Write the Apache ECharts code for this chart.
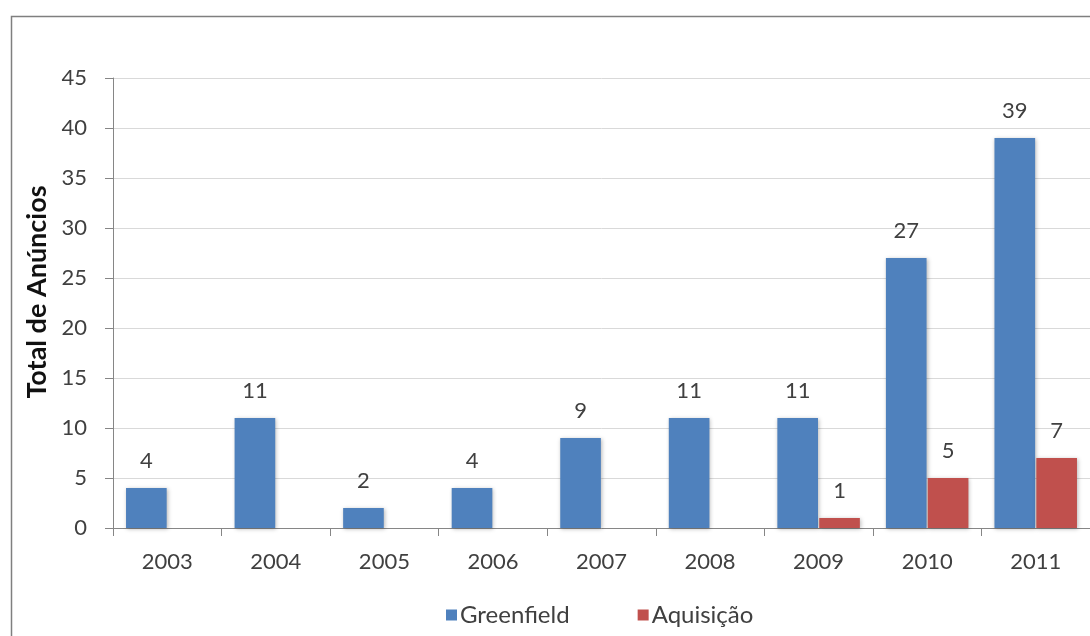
<!DOCTYPE html>
<html>
<head>
<meta charset="utf-8">
<title>Total de Anúncios</title>
<script src="https://cdn.jsdelivr.net/npm/echarts@6/dist/echarts.min.js"></script>
<style>
  html, body { margin: 0; padding: 0; background: #ffffff; }
  #chart { width: 1090px; height: 636px; }
</style>
</head>
<body>
<div id="chart"></div>
<script>
// Announcements per year, by type of investment
const years = ['2003', '2004', '2005', '2006', '2007', '2008', '2009', '2010', '2011'];
const greenfield = [4, 11, 2, 4, 9, 11, 11, 27, 39];
const aquisicao = [null, null, null, null, null, null, 1, 5, 7];
const yTicks = { min: 0, max: 45, interval: 5 };

const textColor = '#404040';
const fontFamily = 'Lato, "Open Sans", sans-serif';

const barShadow = {
  shadowBlur: 4,
  shadowColor: 'rgba(0,0,0,0.28)',
  shadowOffsetX: 1,
  shadowOffsetY: 1
};

const labelStyle = {
  show: true,
  position: 'top',
  distance: 16,
  color: textColor,
  fontSize: 22,
  fontFamily: fontFamily,
  formatter: p => (p.value == null ? '' : String(p.value))
};

const chart = echarts.init(document.getElementById('chart'), null, { renderer: 'canvas' });

chart.setOption({
  animation: false,
  backgroundColor: '#ffffff',
  textStyle: { fontFamily: fontFamily, color: textColor },
  graphic: [{
    type: 'rect',
    left: 9,
    top: 14,
    shape: { width: 1200, height: 700 },
    style: { fill: 'none', stroke: '#7f7f7f', lineWidth: 1.5 },
    silent: true,
    z: -1
  }],
  grid: { left: 113, right: 0, top: 78, bottom: 108 },
  legend: {
    data: ['Greenfield', 'Aquisição'],
    left: 441,
    top: 598,
    itemWidth: 11,
    itemHeight: 11,
    itemGap: 68,
    icon: 'rect',
    textStyle: { color: textColor, fontSize: 24, fontFamily: fontFamily, padding: [0, 0, 0, -2] }
  },
  xAxis: {
    type: 'category',
    data: years,
    boundaryGap: true,
    axisLine: { lineStyle: { color: '#868686', width: 1 } },
    axisTick: { show: true, interval: 0, length: 8, lineStyle: { color: '#868686' } },
    axisLabel: { color: textColor, fontSize: 22, margin: 23, fontFamily: fontFamily }
  },
  yAxis: {
    type: 'value',
    min: yTicks.min,
    max: yTicks.max,
    interval: yTicks.interval,
    name: 'Total de Anúncios',
    nameLocation: 'middle',
    nameGap: 56,
    nameTextStyle: {
      color: '#111111',
      fontSize: 27,
      fontWeight: 'bold',
      fontFamily: fontFamily,
      padding: [0, 0, 0, 22]
    },
    axisLine: { show: true, lineStyle: { color: '#868686', width: 1 } },
    axisTick: { show: true, length: 8, lineStyle: { color: '#868686' } },
    axisLabel: { color: textColor, fontSize: 22, margin: 26, fontFamily: fontFamily },
    splitLine: { show: true, lineStyle: { color: '#d9d9d9', width: 1 } }
  },
  series: [
    {
      name: 'Greenfield',
      type: 'bar',
      data: greenfield,
      barGap: '3%',
      barCategoryGap: '24%',
      itemStyle: Object.assign({ color: '#4F81BD' }, barShadow),
      label: labelStyle
    },
    {
      name: 'Aquisição',
      type: 'bar',
      data: aquisicao,
      itemStyle: Object.assign({ color: '#C0504D' }, barShadow),
      label: labelStyle
    }
  ]
});
</script>
</body>
</html>
